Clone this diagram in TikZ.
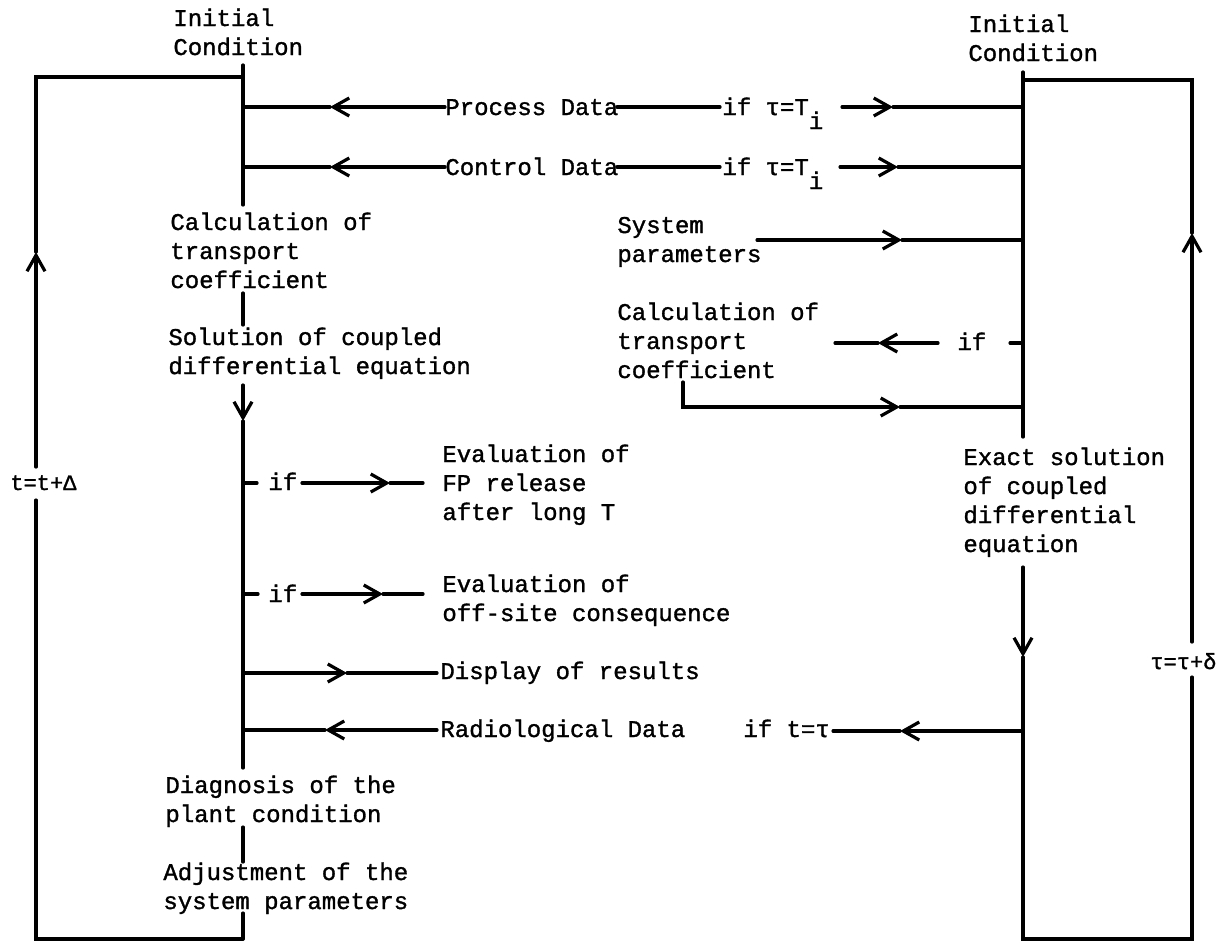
\documentclass[tikz,border=0pt]{standalone}
\usepackage{fontspec}
\setmainfont{Liberation Mono}[FakeBold=1.3]
\usetikzlibrary{arrows.meta}
\begin{document}
\begin{tikzpicture}[x=0.5pt,y=-0.5pt,
  flow/.style={line width=1.6pt, line cap=round},
  barb/.style={flow, -{Straight Barb[length=8pt,width=9pt]}},
  lbl/.style={inner sep=0pt, anchor=base west, align=left,
              font=\fontsize{12}{14.5}\selectfont},
  eqn/.style={inner sep=0pt, anchor=base west, font=\fontsize{11}{13}\selectfont}]
\useasboundingbox (0,0) rectangle (1229,943);

% ---------- text (anchored at the baseline of the last line) ----------
\node[lbl] (icL)   at (173,55)  {Initial\\Condition};
\node[lbl] (calcL) at (170,288) {Calculation of\\transport\\coefficient};
\node[lbl] (solL)  at (168,374) {Solution of coupled\\differential equation};
\node[lbl] (diagL) at (165,822) {Diagnosis of the\\plant condition};
\node[lbl] (adjL)  at (163,909) {Adjustment of the\\system parameters};

\node[lbl] (icR)   at (968,61)  {Initial\\Condition};
\node[lbl] (sysR)  at (617,262) {System\\parameters};
\node[lbl] (calcR) at (617,378) {Calculation of\\transport\\coefficient};
\node[lbl] (exR)   at (963,552) {Exact solution\\of coupled\\differential\\equation};

\node[lbl] (proc)  at (445,115) {Process Data};
\node[lbl] (ifP)   at (722,115) {if τ=T\raisebox{-7pt}{i}};
\node[lbl] (ctrl)  at (445,175) {Control Data};
\node[lbl] (ifC)   at (722,175) {if τ=T\raisebox{-7pt}{i}};

\node[lbl] (if1)   at (268,490) {if};
\node[lbl] (ev1)   at (442,520) {Evaluation of\\FP release\\after long T};
\node[lbl] (if2)   at (268,602) {if};
\node[lbl] (ev2)   at (442,621) {Evaluation of\\off-site consequence};
\node[lbl] (disp)  at (440,679) {Display of results};
\node[lbl] (rad)   at (440,737) {Radiological Data};
\node[lbl] (ift)   at (743,737) {if t=τ};
\node[lbl] (ifR)   at (957,350) {if};

\node[eqn] (tdel)  at (10,490)   {t=t+Δ};
\node[eqn] (taud)  at (1150,669) {τ=τ+δ};

% ---------- junction points ----------
\coordinate (Ltop) at (243,65);
\coordinate (Rtop) at (1023,72);

% ---------- left column spine ----------
\draw[flow] (Ltop) -- (243,205);
\draw[flow] (243,293) -- (243,325);
\draw[barb] (243,385) -- (243,421);
\draw[flow] (243,421) -- (243,768);
\draw[flow] (243,827) -- (243,862);
\draw[flow] (243,913) -- (243,939);

% ---------- outer loop t = t + Delta ----------
\draw[flow] (243,939) -- (36,939) -- (36,500);
\draw[barb] (36,467) -- (36,252);
\draw[flow] (36,252) -- (36,77) -- (243,77);

% ---------- right column spine ----------
\draw[flow] (Rtop) -- (1023,437);
\draw[barb] (1023,567) -- (1023,657);
\draw[flow] (1023,657) -- (1023,939) -- (1192,939) -- (1192,677);
\draw[barb] (1192,642) -- (1192,233);
\draw[flow] (1192,233) -- (1192,80) -- (1023,80);

% ---------- process / control data ----------
\draw[barb] (445,107) -- (330,107);
\draw[flow] (330,107) -- (243,107);
\draw[flow] (617,107) -- (720,107);
\draw[barb] (842,107) -- (893,107);
\draw[flow] (893,107) -- (1023,107);

\draw[barb] (445,167) -- (330,167);
\draw[flow] (330,167) -- (243,167);
\draw[flow] (617,167) -- (720,167);
\draw[barb] (840,167) -- (898,167);
\draw[flow] (898,167) -- (1023,167);

% ---------- system parameters ----------
\draw[barb] (757,240) -- (902,240);
\draw[flow] (902,240) -- (1023,240);

% ---------- right-hand transport coefficient ----------
\draw[flow] (1023,343) -- (1010,343);
\draw[barb] (938,343) -- (878,343);
\draw[flow] (878,343) -- (835,343);
\draw[flow] (683,382) -- (683,407) -- (820,407);
\draw[barb] (820,407) -- (900,407);
\draw[flow] (900,407) -- (1023,407);

% ---------- evaluation branches ----------
\draw[flow] (243,483) -- (257,483);
\draw[barb] (302,483) -- (390,483);
\draw[flow] (390,483) -- (423,483);
\draw[flow] (243,594) -- (258,594);
\draw[barb] (302,594) -- (383,594);
\draw[flow] (383,594) -- (423,594);

% ---------- display / radiological data ----------
\draw[barb] (243,673) -- (347,673);
\draw[flow] (347,673) -- (437,673);
\draw[barb] (1023,731) -- (900,731);
\draw[flow] (900,731) -- (833,731);
\draw[barb] (437,730) -- (325,730);
\draw[flow] (325,730) -- (243,730);
\end{tikzpicture}
\end{document}
